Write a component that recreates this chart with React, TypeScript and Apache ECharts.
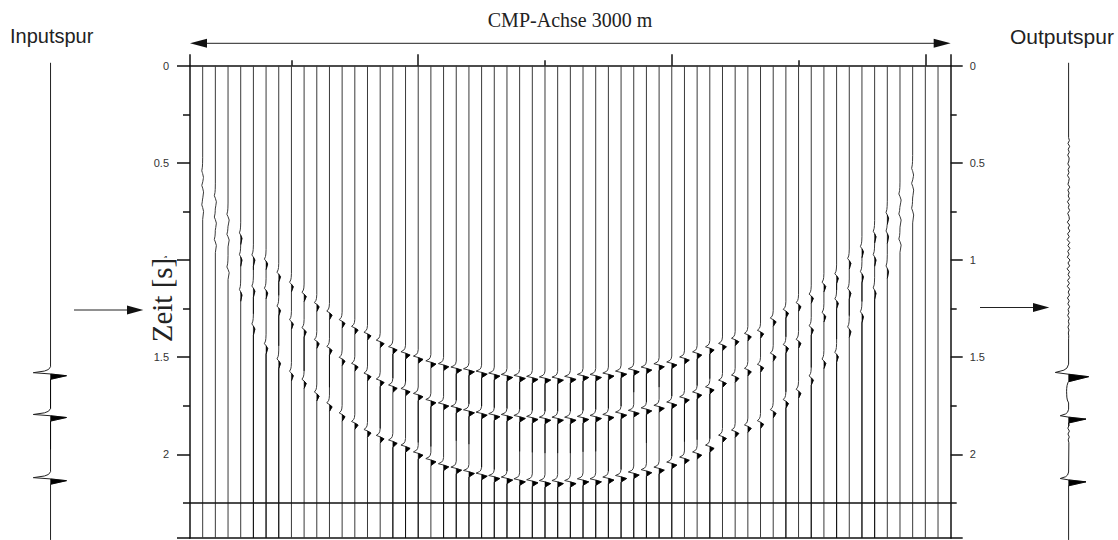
import React, { useEffect, useRef } from "react";
import * as echarts from "echarts";

// ---------- axes ----------
const TIME_MAX = 2.43;
const TIME_LABELS = [0, 0.5, 1, 1.5, 2];
const TIME_MAJOR_TICKS = [0, 0.5, 1, 1.5, 2, 2.43];
const TIME_MINOR_TICKS = [0.25, 0.75, 1.25, 1.75, 2.25];
const TIME_LINE = 2.25;
const TRACE_MAX = 60;
const CMP_LONG_TICKS = [0, 18, 38, 58, 60];
const CMP_SHORT_TICKS = [8, 28, 48];

// ---------- wavelet template (s relative to positive peak, normalised amplitude) ----------
const WAVELET_DT = [-0.046, -0.032, -0.024, -0.0155, -0.009, 0, 0.0185];
const WAVELET_AMP = [0, -0.12, -0.35, -1, 0, 1, 0];

// ---------- migrated section: event times (s) for traces 1..59 ----------
const EVENT1_T = [
  0.575, 0.7, 0.794, 0.888, 1.0, 1.02, 1.086, 1.137, 1.188, 1.24,
  1.283, 1.326, 1.36, 1.39, 1.43, 1.463, 1.489, 1.511, 1.535, 1.549,
  1.566, 1.575, 1.587, 1.597, 1.604, 1.609, 1.614, 1.617, 1.618, 1.614,
  1.604, 1.604, 1.597, 1.587, 1.575, 1.566, 1.549, 1.54, 1.515, 1.489,
  1.463, 1.446, 1.42, 1.395, 1.38, 1.318, 1.274, 1.24, 1.197, 1.137,
  1.094, 1.017, 0.957, 0.88, 0.785, 0.691, 0.5625, null, null,
];
const EVENT2_T = [
  0.65, 0.81, 0.897, 1.0, 1.16, 1.17, 1.26, 1.33, 1.37, 1.43,
  1.465, 1.52, 1.55, 1.6, 1.63, 1.66, 1.678, 1.703, 1.734, 1.751,
  1.768, 1.786, 1.798, 1.806, 1.81, 1.815, 1.82, 1.824, 1.824, 1.824,
  1.82, 1.815, 1.81, 1.798, 1.789, 1.776, 1.763, 1.746, 1.72, 1.695,
  1.669, 1.635, 1.609, 1.575, 1.555, 1.498, 1.455, 1.429, 1.36, 1.292,
  1.223, 1.171, 1.086, 1.0, 0.88, 0.794, 0.64, null, null,
];
const EVENT3_T = [
  0.75, 0.925, 1.065, 1.18, 1.355, 1.455, 1.532, 1.595, 1.635, 1.7,
  1.755, 1.806, 1.849, 1.89, 1.92, 1.943, 1.969, 2.004, 2.038, 2.064,
  2.081, 2.098, 2.112, 2.124, 2.132, 2.141, 2.146, 2.15, 2.15, 2.15,
  2.141, 2.141, 2.132, 2.124, 2.106, 2.094, 2.081, 2.055, 2.03, 2.004,
  1.969, 1.918, 1.892, 1.866, 1.845, 1.789, 1.738, 1.686, 1.618, 1.532,
  1.498, 1.369, 1.292, 1.171, 1.06, 0.923, 0.768, null, null,
];
// wiggle amplitude (in trace spacings) and wavelet stretch per trace
const TRACE_AMP = [
  0.07, 0.08, 0.09, 0.1, 0.12, 0.13, 0.14, 0.15, 0.17, 0.19,
  0.21, 0.23, 0.26, 0.28, 0.31, 0.34, 0.36, 0.38, 0.4, 0.41,
  0.42, 0.43, 0.44, 0.44, 0.45, 0.45, 0.45, 0.45, 0.45, 0.45,
  0.45, 0.45, 0.44, 0.44, 0.43, 0.42, 0.41, 0.4, 0.38, 0.36,
  0.34, 0.31, 0.29, 0.27, 0.25, 0.23, 0.21, 0.19, 0.17, 0.15,
  0.14, 0.13, 0.12, 0.11, 0.1, 0.09, 0.08, 0, 0,
];
const TRACE_STRETCH = [
  2.2, 2.0, 1.9, 1.8, 1.7, 1.6, 1.5, 1.45, 1.4, 1.35,
  1.3, 1.25, 1.2, 1.18, 1.15, 1.12, 1.1, 1.08, 1.06, 1.04,
  1, 1, 1, 1, 1, 1, 1, 1, 1, 1,
  1, 1, 1, 1, 1, 1, 1, 1, 1.04, 1.06,
  1.08, 1.1, 1.12, 1.15, 1.2, 1.25, 1.3, 1.35, 1.4, 1.45,
  1.5, 1.6, 1.7, 1.8, 1.9, 2.0, 2.2, 1, 1,
];

// ---------- input trace ----------
const INPUT_EVENT_T = [1.595, 1.81, 2.135];
const INPUT_NEG = [1.36, 1.36, 1.36];
const INPUT_POS = [1.26, 1.26, 1.26];

// ---------- output trace ----------
const OUTPUT_EVENT_T = [1.6, 1.818, 2.141];
const OUTPUT_NEG = [1.05, 0.66, 0.66];
const OUTPUT_POS = [1.58, 1.37, 1.37];
const OUTPUT_STRETCH = [1.4, 1.1, 1.1];
const OUTPUT_NOISE_A_START = 0.37;
const OUTPUT_NOISE_A = [
  0, 0.06, -0.05, 0.08, -0.03, 0.05, -0.07, 0.04, 0.02, -0.06,
  0.07, -0.04, 0.03, -0.08, 0.05, 0.01, -0.05, 0.09, -0.06, 0.04,
  -0.03, 0.07, -0.09, 0.05, -0.02, 0.08, -0.07, 0.03, 0.06, -0.1,
  0.08, -0.04, 0.1, -0.08, 0.05, -0.11, 0.09, -0.06, 0.1, -0.07,
  0.04, -0.1, 0.11, -0.05, 0.08, -0.12, 0.07, -0.04, 0.09, -0.08,
  0.06, -0.1, 0.08, -0.03, 0.07, -0.09, 0.05, -0.06, 0.08, -0.04,
  0.03, -0.07, 0.05, -0.02, 0.04, -0.05, 0.03, -0.02, 0.01, 0,
];
const OUTPUT_NOISE_B_START = 1.63;
const OUTPUT_NOISE_B = [-0.05, -0.12, -0.15, -0.16, -0.15, -0.14, -0.1, -0.04];
const OUTPUT_NOISE_C_START = 1.85;
const OUTPUT_NOISE_C = [0.03, -0.06, 0.06, -0.05, 0.05, -0.03, 0.02];
const NOISE_STEP = 0.015;

// ---------- layout constants ----------
const INPUT_TRACE_X = -11;
const OUTPUT_TRACE_X = 69.3;

type Ev = { t: number; neg: number; pos: number; stretch: number };
type Noise = { t0: number; values: number[] };

function evalWavelet(dt: number): number {
  const n = WAVELET_DT.length;
  if (dt <= WAVELET_DT[0] || dt >= WAVELET_DT[n - 1]) return 0;
  for (let i = 1; i < n; i++) {
    if (dt <= WAVELET_DT[i]) {
      const f = (dt - WAVELET_DT[i - 1]) / (WAVELET_DT[i] - WAVELET_DT[i - 1]);
      return WAVELET_AMP[i - 1] + f * (WAVELET_AMP[i] - WAVELET_AMP[i - 1]);
    }
  }
  return 0;
}

function buildTrace(events: Ev[], noises: Noise[], tTop: number, tBot: number, fillMin: number) {
  const knots: number[] = [tTop, tBot];
  events.forEach((e) => WAVELET_DT.forEach((d) => knots.push(e.t + d * e.stretch)));
  noises.forEach((n) => n.values.forEach((_, i) => knots.push(n.t0 + i * NOISE_STEP)));
  const ts = Array.from(new Set(knots.map((t) => Math.round(t * 100000) / 100000)))
    .filter((t) => t >= tTop && t <= tBot)
    .sort((a, b) => a - b);
  const val = (t: number) => {
    let a = 0;
    events.forEach((e) => {
      const w = evalWavelet((t - e.t) / e.stretch);
      a += w < 0 ? w * e.neg : w * e.pos;
    });
    noises.forEach((n) => {
      const idx = (t - n.t0) / NOISE_STEP;
      if (idx >= 0 && idx <= n.values.length - 1) {
        const i0 = Math.floor(idx);
        const i1 = Math.min(i0 + 1, n.values.length - 1);
        const f = idx - i0;
        a += n.values[i0] * (1 - f) + n.values[i1] * f;
      }
    });
    return a;
  };
  const samples = ts.map((t) => [t, val(t)]);
  const lobes: number[][][] = [];
  let cur: number[][] | null = null;
  let curMax = 0;
  for (let i = 0; i < samples.length; i++) {
    const [t, a] = samples[i];
    if (a > 0) {
      if (!cur) {
        const prev = samples[i - 1] || [t, 0];
        const tc = prev[1] < 0 ? prev[0] + ((t - prev[0]) * -prev[1]) / (a - prev[1]) : prev[0];
        cur = [[tc, 0]];
        curMax = 0;
      }
      cur.push([t, a]);
      curMax = Math.max(curMax, a);
    } else if (cur) {
      const prev = samples[i - 1];
      const tc = a < 0 ? prev[0] + ((t - prev[0]) * prev[1]) / (prev[1] - a) : t;
      cur.push([tc, 0]);
      if (curMax >= fillMin) lobes.push(cur);
      cur = null;
    }
  }
  return { samples, lobes };
}

type TraceDef = { x: number; samples: number[][]; lobes: number[][][]; color: string; width: number };

function makeTraces(): TraceDef[] {
  const list: TraceDef[] = [];
  EVENT1_T.forEach((_, i) => {
    const evs: Ev[] = [];
    [EVENT1_T[i], EVENT2_T[i], EVENT3_T[i]].forEach((t) => {
      if (t != null && TRACE_AMP[i] > 0) {
        evs.push({ t: t as number, neg: TRACE_AMP[i], pos: TRACE_AMP[i], stretch: TRACE_STRETCH[i] });
      }
    });
    const b = buildTrace(evs, [], 0, TIME_MAX, 0.1);
    list.push({ x: i + 1, samples: b.samples, lobes: b.lobes, color: "#3a3a3a", width: 1 });
  });
  const inEv: Ev[] = INPUT_EVENT_T.map((t, k) => ({ t, neg: INPUT_NEG[k], pos: INPUT_POS[k], stretch: 1 }));
  const inB = buildTrace(inEv, [], -0.015, 2.44, 0.1);
  list.push({ x: INPUT_TRACE_X, samples: inB.samples, lobes: inB.lobes, color: "#222", width: 1 });
  const outEv: Ev[] = OUTPUT_EVENT_T.map((t, k) => ({ t, neg: OUTPUT_NEG[k], pos: OUTPUT_POS[k], stretch: OUTPUT_STRETCH[k] }));
  const outB = buildTrace(
    outEv,
    [
      { t0: OUTPUT_NOISE_A_START, values: OUTPUT_NOISE_A },
      { t0: OUTPUT_NOISE_B_START, values: OUTPUT_NOISE_B },
      { t0: OUTPUT_NOISE_C_START, values: OUTPUT_NOISE_C },
    ],
    -0.015,
    2.44,
    0.3
  );
  list.push({ x: OUTPUT_TRACE_X, samples: outB.samples, lobes: outB.lobes, color: "#222", width: 1 });
  return list;
}

const SANS = '"Liberation Sans", Arial, Helvetica, sans-serif';
const SERIF = '"Liberation Serif", "Times New Roman", Times, serif';
const AXIS_COLOR = "#111";

export default function App() {
  const ref = useRef<HTMLDivElement>(null);
  useEffect(() => {
    if (!ref.current) return;
    const chart = echarts.init(ref.current, null, { renderer: "svg" });
    const traces = makeTraces();

    const yMajor = (position: "left" | "right", margin: number, len: number) => ({
      type: "value",
      position,
      inverse: true,
      min: 0,
      max: TIME_MAX,
      axisLine: { show: true, onZero: false, lineStyle: { color: AXIS_COLOR, width: 1.5 } },
      axisTick: { show: true, customValues: TIME_MAJOR_TICKS, length: len, lineStyle: { color: AXIS_COLOR, width: 1.5 } },
      axisLabel: { show: true, customValues: TIME_LABELS, margin, color: "#333", fontSize: 11, fontFamily: SANS },
      splitLine: { show: false },
    });
    const yMinor = (position: "left" | "right", len: number) => ({
      type: "value",
      position,
      inverse: true,
      min: 0,
      max: TIME_MAX,
      axisLine: { show: false, onZero: false },
      axisTick: { show: true, customValues: TIME_MINOR_TICKS, length: len, lineStyle: { color: AXIS_COLOR, width: 1.5 } },
      axisLabel: { show: false },
      splitLine: { show: false },
    });

    const arrowStyle = { stroke: "#222", lineWidth: 1 };
    const headStyle = { fill: "#111" };

    chart.setOption({
      animation: false,
      backgroundColor: "#fff",
      textStyle: { fontFamily: SANS },
      grid: { left: 190, right: 167.3, top: 65.7, bottom: 2, containLabel: false },
      xAxis: [
        {
          type: "value",
          position: "top",
          min: 0,
          max: TRACE_MAX,
          axisLine: { show: true, onZero: false, lineStyle: { color: AXIS_COLOR, width: 1.5 } },
          axisTick: { show: true, customValues: CMP_LONG_TICKS, length: 11.5, lineStyle: { color: AXIS_COLOR, width: 1.5 } },
          axisLabel: { show: false },
          splitLine: { show: false },
        },
        {
          type: "value",
          position: "top",
          min: 0,
          max: TRACE_MAX,
          axisLine: { show: false, onZero: false },
          axisTick: { show: true, customValues: CMP_SHORT_TICKS, length: 5.5, lineStyle: { color: AXIS_COLOR, width: 1.5 } },
          axisLabel: { show: false },
          splitLine: { show: false },
        },
        {
          type: "value",
          position: "bottom",
          min: 0,
          max: TRACE_MAX,
          axisLine: { show: true, onZero: false, lineStyle: { color: AXIS_COLOR, width: 1.5 } },
          axisTick: { show: false },
          axisLabel: { show: false },
          splitLine: { show: false },
        },
      ],
      yAxis: [yMajor("left", 21, 13), yMinor("left", 7), yMajor("right", 19, 12), yMinor("right", 6)],
      series: [
        {
          type: "custom",
          name: "Spuren",
          xAxisIndex: 0,
          yAxisIndex: 0,
          clip: false,
          silent: true,
          data: traces.map((t, i) => [t.x, i]),
          renderItem: (params: any, api: any) => {
            const tr = traces[params.dataIndex];
            const pts = tr.samples.map((s) => api.coord([tr.x + s[1], s[0]]));
            const children: any[] = [
              { type: "polyline", shape: { points: pts }, style: { stroke: tr.color, lineWidth: tr.width, fill: null } },
            ];
            tr.lobes.forEach((lobe) => {
              children.push({
                type: "polygon",
                shape: { points: lobe.map((s) => api.coord([tr.x + s[1], s[0]])) },
                style: { fill: "#000", stroke: "#000", lineWidth: 0.5 },
              });
            });
            return { type: "group", children };
          },
          markLine: {
            silent: true,
            symbol: "none",
            label: { show: false },
            lineStyle: { color: AXIS_COLOR, width: 1.5, type: "solid" },
            data: [{ yAxis: TIME_LINE }],
          },
        },
      ],
      graphic: [
        {
          type: "text",
          x: 570,
          y: 20,
          style: { text: "CMP-Achse 3000 m", fontSize: 20, fontFamily: SERIF, fill: "#222", align: "center", verticalAlign: "middle" },
        },
        {
          type: "text",
          x: 10,
          y: 35.7,
          style: { text: "Inputspur", fontSize: 20, fontFamily: SANS, fill: "#222", align: "left", verticalAlign: "middle" },
        },
        {
          type: "text",
          x: 1010,
          y: 36.5,
          style: { text: "Outputspur", fontSize: 21, fontFamily: SANS, fill: "#222", align: "left", verticalAlign: "middle" },
        },
        {
          type: "text",
          x: 161.7,
          y: 300,
          rotation: Math.PI / 2,
          z: 100,
          style: { text: "Zeit [s]", fontSize: 29, fontFamily: SERIF, fill: "#222", align: "center", verticalAlign: "middle", backgroundColor: "#fff" },
        },
        { type: "line", shape: { x1: 200, y1: 43.3, x2: 940, y2: 43.3 }, style: arrowStyle },
        { type: "polygon", shape: { points: [[190, 43.3], [207, 38.8], [207, 47.8]] }, style: headStyle },
        { type: "polygon", shape: { points: [[950.7, 43.3], [933.7, 38.8], [933.7, 47.8]] }, style: headStyle },
        { type: "line", shape: { x1: 74, y1: 310, x2: 132, y2: 310 }, style: arrowStyle },
        { type: "polygon", shape: { points: [[143.3, 310], [127, 305.5], [127, 314.5]] }, style: headStyle },
        { type: "line", shape: { x1: 980, y1: 307.5, x2: 1038, y2: 307.5 }, style: arrowStyle },
        { type: "polygon", shape: { points: [[1049.3, 307.5], [1033, 303], [1033, 312]] }, style: headStyle },
      ],
    });
    return () => chart.dispose();
  }, []);
  return (
    <div
      ref={ref}
      style={{ position: "fixed", left: 0, top: 0, width: 1118, height: 540, background: "#fff" }}
    />
  );
}
